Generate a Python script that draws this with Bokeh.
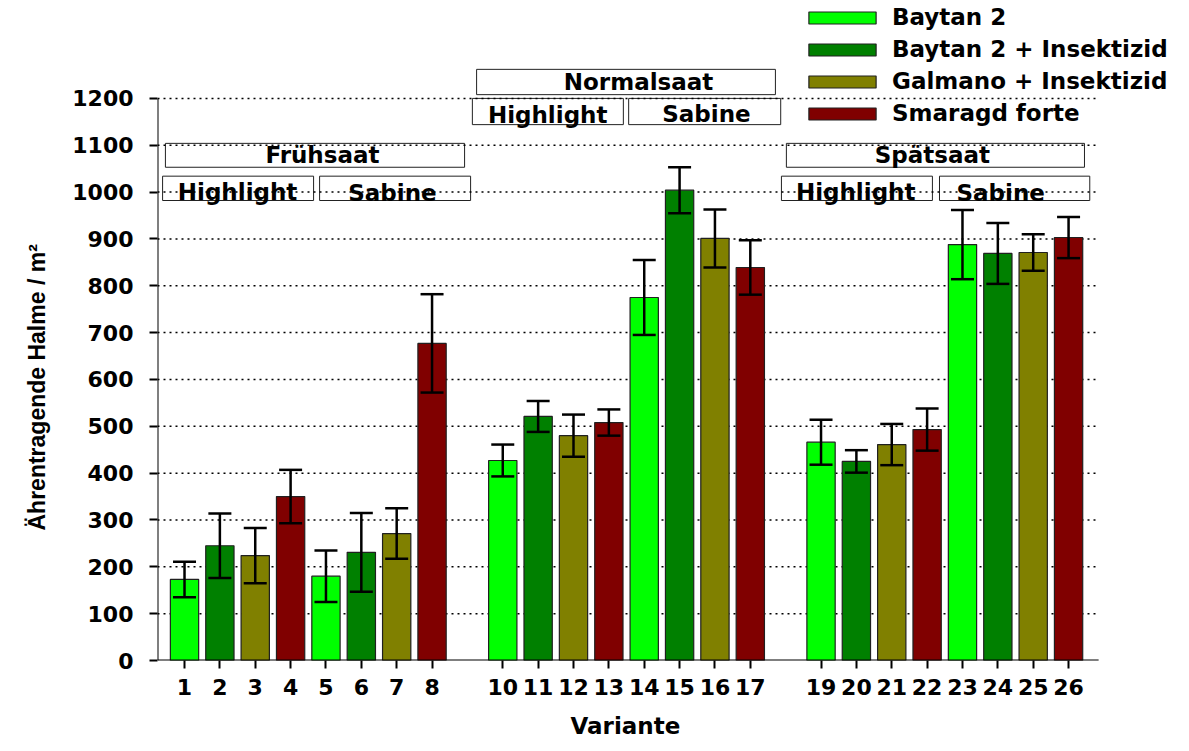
from bokeh.plotting import figure
from bokeh.models import (ColumnDataSource, Whisker, TeeHead, FixedTicker, Legend, LegendItem, Range1d, Title)
from bokeh.core.properties import value
from bokeh.embed import file_html
from bokeh.resources import INLINE

# ---------------- data ----------------
variants = [1, 2, 3, 4, 5, 6, 7, 8,
            10, 11, 12, 13, 14, 15, 16, 17,
            19, 20, 21, 22, 23, 24, 25, 26]
means = [173, 245, 224, 350, 180, 231, 271, 677,
         427, 521, 480, 508, 775, 1004, 901, 839,
         466, 425, 461, 493, 888, 869, 871, 903]
errors = [38, 69, 59, 57, 55, 84, 54, 105,
          34, 33, 45, 28, 80, 49, 62, 58,
          48, 24, 44, 45, 74, 65, 39, 44]
series_names = ["Baytan 2", "Baytan 2 + Insektizid", "Galmano + Insektizid", "Smaragd forte"]
series_of_bar = [0, 1, 2, 3] * 6
y_ticks = list(range(0, 1201, 100))

sowing_labels = ["Frühsaat", "Normalsaat", "Spätsaat"]
variety_labels = ["Highlight", "Sabine", "Highlight", "Sabine", "Highlight", "Sabine"]
x_title = "Variante"
y_title = "Ährentragende Halme / m²"

# ---------------- style / layout ----------------
colors = ["#00FF00", "#008000", "#808000", "#800000"]
FONT = "DejaVu Sans"
FONT_Y = "Liberation Sans"
FS_TICK = "22px"
FS = "23px"

# label boxes (layout positions in data coordinates)
sow_boxes = dict(left=[0.46, 9.26, 18.02], right=[8.92, 17.71, 26.45],
                 bottom=[1053, 1208, 1053], top=[1104, 1262, 1104])
sow_text = dict(x=[4.9, 13.84, 22.15], y=[1079, 1235, 1079])
var_boxes = dict(left=[0.38, 4.82, 9.14, 13.56, 17.88, 22.35],
                 right=[4.65, 9.09, 13.41, 17.86, 22.15, 26.6],
                 bottom=[982, 982, 1144, 1144, 982, 982],
                 top=[1034, 1034, 1200, 1200, 1034, 1034])
var_text = dict(x=[2.5, 6.88, 11.27, 15.76, 19.98, 24.08],
                y=[1000, 998, 1164, 1166, 1000, 998])

X0 = 0.236        # left end of x range (y axis position)
XA = 26.85        # right end of drawn x axis / grid
X1 = 29.42        # right end of frame (room for legend)
Y1 = 1409

p = figure(width=1189, height=751, output_backend="svg", toolbar_location=None,
           x_range=Range1d(X0, X1), y_range=Range1d(0, Y1),
           min_border_left=157, min_border_right=0, min_border_top=0, min_border_bottom=91)
p.outline_line_color = None
p.background_fill_color = "white"
p.xgrid.visible = False
p.ygrid.visible = False

# label boxes + texts
p.quad(left=sow_boxes["left"], right=sow_boxes["right"], bottom=sow_boxes["bottom"], top=sow_boxes["top"],
       fill_color=None, line_color="#222222", line_width=1)
p.quad(left=var_boxes["left"], right=var_boxes["right"], bottom=var_boxes["bottom"], top=var_boxes["top"],
       fill_color=None, line_color="#222222", line_width=1)
p.text(x=sow_text["x"], y=sow_text["y"], text=sowing_labels, text_font=value(FONT),
       text_font_style="bold", text_font_size=FS, text_align="center", text_baseline="middle")
p.text(x=var_text["x"], y=var_text["y"], text=variety_labels, text_font=value(FONT),
       text_font_style="bold", text_font_size=FS, text_align="center", text_baseline="middle")

# dotted horizontal grid lines (drawn from tick values), ending with the x axis
gy = y_ticks[1:]
p.segment(x0=[X0] * len(gy), y0=gy, x1=[XA] * len(gy), y1=gy,
          line_color="black", line_dash="2 4", line_width=1.5)

# bars per series
legend_items = []
for s, name in enumerate(series_names):
    idx = [i for i, k in enumerate(series_of_bar) if k == s]
    src = ColumnDataSource(dict(x=[variants[i] for i in idx], top=[means[i] for i in idx]))
    r = p.vbar(x="x", top="top", width=0.8, bottom=0, source=src,
               fill_color=colors[s], line_color="#202020", line_width=1.2)
    legend_items.append(LegendItem(label=name, renderers=[r]))

# error bars (drawn over the bars)
esrc = ColumnDataSource(dict(x=variants,
                             upper=[m + e for m, e in zip(means, errors)],
                             lower=[m - e for m, e in zip(means, errors)]))
w = Whisker(base="x", upper="upper", lower="lower", source=esrc, level="overlay",
            line_color="black", line_width=2.5,
            upper_head=TeeHead(size=23, line_width=2.5, line_color="black"),
            lower_head=TeeHead(size=23, line_width=2.5, line_color="black"))
p.add_layout(w)

# axis lines (y only up to 1200, x only to end of data area)
p.segment(x0=[X0], y0=[0], x1=[X0], y1=[y_ticks[-1]], line_color="black", line_width=2)
p.segment(x0=[X0], y0=[0], x1=[XA], y1=[0], line_color="black", line_width=2)

# axes
p.xaxis.ticker = FixedTicker(ticks=variants)
p.yaxis.ticker = FixedTicker(ticks=y_ticks)
for ax in (p.xaxis[0], p.yaxis[0]):
    ax.axis_line_color = None
    ax.major_tick_out = 8
    ax.major_tick_in = 0
    ax.minor_tick_out = 0
    ax.minor_tick_in = 0
    ax.major_tick_line_width = 2
    ax.major_tick_line_color = "black"
    ax.major_label_text_font = FONT
    ax.major_label_text_font_style = "bold"
    ax.major_label_text_font_size = FS_TICK
    ax.major_label_text_color = "black"
p.xaxis.major_label_standoff = 10
p.yaxis.major_label_standoff = 16

# axis titles, placed along the drawn axes
p.add_layout(Title(text=x_title, align="left", offset=413, standoff=26,
                   text_font=FONT, text_font_style="bold", text_font_size=FS,
                   text_color="black"), "below")
p.add_layout(Title(text=y_title, align="left", offset=130, standoff=40,
                   text_font=FONT_Y, text_font_style="bold", text_font_size=FS,
                   text_color="black"), "left")

legend = Legend(items=legend_items, location=(643, 534),
                glyph_width=84, glyph_height=15, label_height=20, spacing=6,
                label_standoff=8, padding=0, margin=0,
                border_line_color=None, background_fill_alpha=0,
                label_text_font=FONT, label_text_font_style="bold",
                label_text_font_size=FS, label_text_color="black")
p.add_layout(legend)

open("out.html", "w").write(file_html(p, INLINE))
